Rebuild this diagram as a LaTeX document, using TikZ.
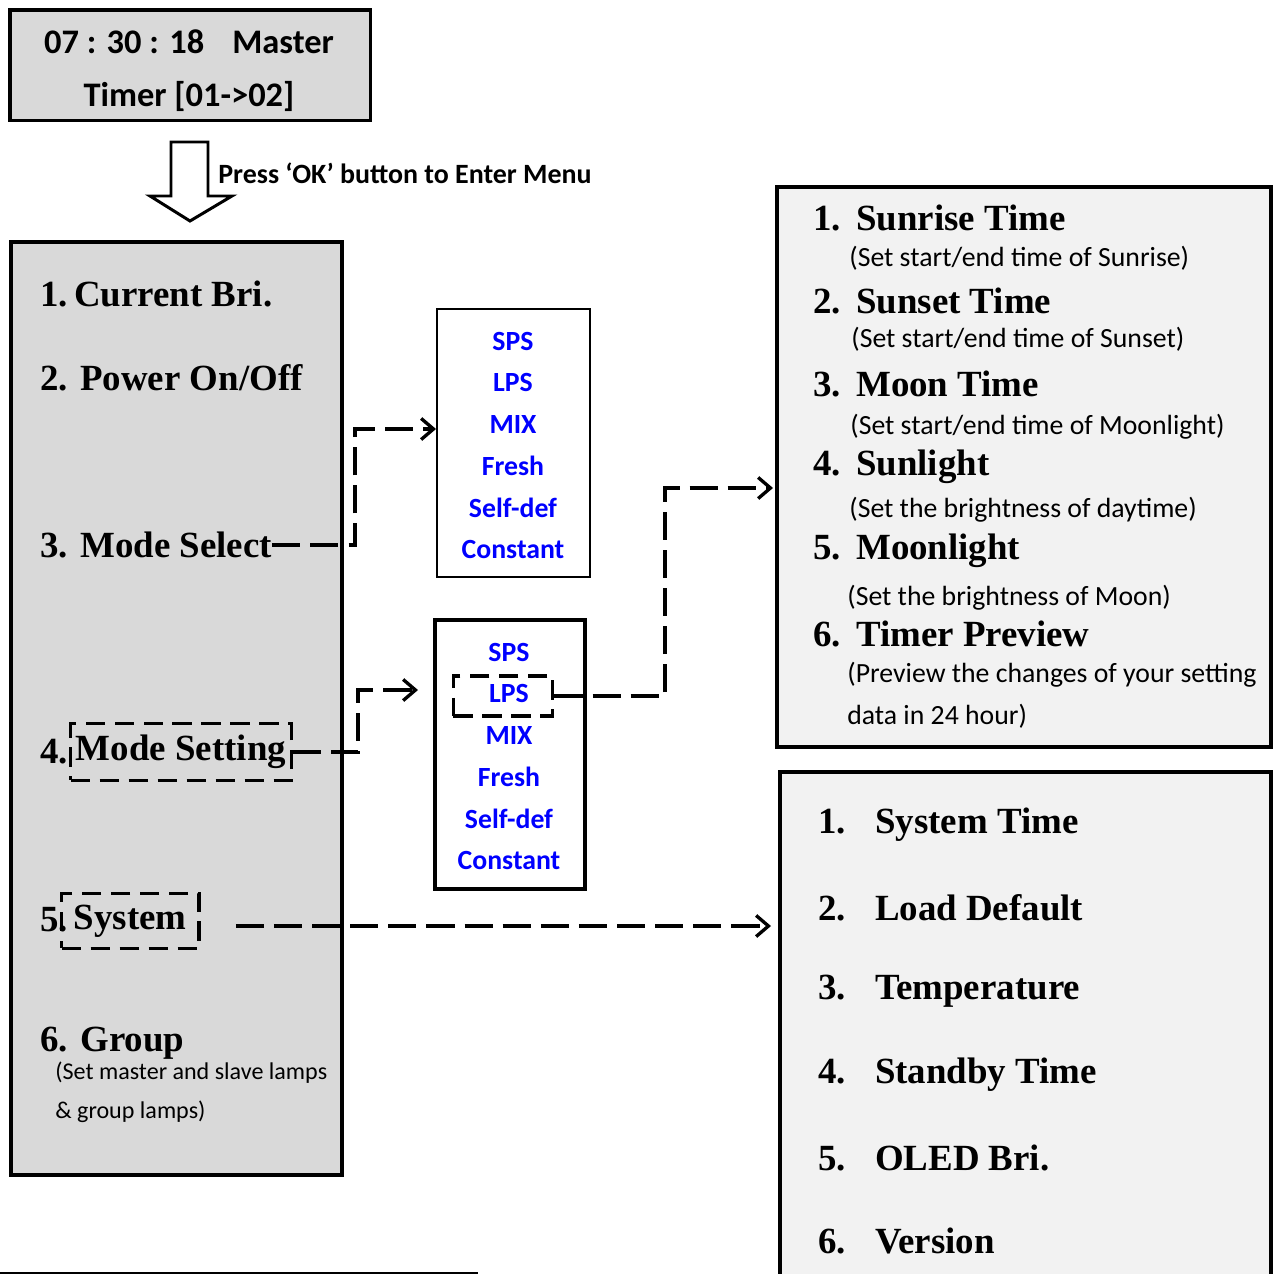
\documentclass[tikz,border=0pt]{standalone}
\usepackage{fontspec}
\setmainfont{Liberation Serif}
\newfontfamily\carlito{Carlito}
\usetikzlibrary{arrows.meta,positioning}

\definecolor{lcdgray}{HTML}{D9D9D9}
\definecolor{pagegray}{HTML}{F2F2F2}
\newcommand\px[1]{#1*0.5669pt}
\newcommand\fs[1]{\fontsize{#1}{#1}\selectfont}

\tikzset{
  panel/.style={draw, line width=2.2pt, anchor=north west, inner sep=0pt},
  lcdtxt/.style={inner sep=0pt, font=\carlito\bfseries\fs{19.6}},
  item/.style={anchor=west, inner sep=0pt, font=\bfseries\fs{21}},
  note/.style={anchor=west, inner sep=0pt, font=\carlito\fs{15.8}},
  mode/.style={inner sep=0pt, text=blue, font=\carlito\bfseries\fs{15.8}},
  dbox/.style={draw, line width=1.9pt, dash pattern=on 11pt off 5.5pt},
  link/.style={line width=1.9pt, dash pattern=on 16pt off 5.7pt},
  tip/.style={-{Straight Barb[length=7pt,width=12pt]}}
}

\begin{document}
\begin{tikzpicture}[x=0.02cm, y=-0.02cm, join=miter] % controller menu tree
  \useasboundingbox (0,0) rectangle (1273,1274);

  % home screen
  \node[panel, fill=lcdgray, minimum width=\px{362}, minimum height=\px{111}] (lcd) at (8,8) {};
  \node[lcdtxt] (clock) at (189,42) {07 : 30 : 18\hspace{16pt}Master};
  \node[lcdtxt] (tmr) at (189,96) {Timer [01->02]};
  \draw[line width=1.7pt] (171,142) -- (208,142) -- (208,196) -- (232,196) -- (190,221)
        -- (150,196) -- (171,196) -- cycle;
  \node[anchor=west, inner sep=0pt, font=\carlito\bfseries\fs{15.9}] (press) at (218,173)
        {Press ‘OK’ button to Enter Menu};

  % main menu
  \node[panel, fill=lcdgray, minimum width=\px{332}, minimum height=\px{937}] (menu) at (9,240) {};
  \node[item] (cur) at (40,294) {1.\,Current Bri.};
  \node[item] (pow) at (40,378) {2. Power On/Off};
  \node[item] (sel) at (40,545) {3. Mode Select};
  \node[item] (num4) at (40,752) {4.};
  \node[dbox, font=\bfseries\fs{21}, anchor=west, inner xsep=3pt, minimum height=\px{57}] (set) at (69,752) {Mode Setting};
  \node[item] (num5) at (40,920) {5.};
  \node[dbox, font=\bfseries\fs{21}, anchor=west, inner xsep=7pt, minimum height=\px{55}] (sys) at (60,921) {System};
  \node[item] (grp) at (40,1043) {6. Group};
  \node[note, font=\carlito\fs{13.7}] (grp1) at (55,1073) {(Set master and slave lamps};
  \node[note, font=\carlito\fs{13.7}] (grp2) at (55,1112) {\& group lamps)};

  % mode lists
  \node[panel, line width=1.1pt, minimum width=\px{154}, minimum height=\px{269}] (listA) at (436,308) {};
  \node[panel, minimum width=\px{151}, minimum height=\px{270}] (listB) at (433,618) {};
  \foreach \m [count=\i] in {SPS,LPS,MIX,Fresh,Self-def,Constant}{
    \node[mode] (a\i) at (513,{341+41.6*(\i-1)}) {\m};
    \node[mode] (b\i) at (509,{652+41.6*(\i-1)}) {\m};
  }
  \node[dbox, minimum width=\px{100}, minimum height=\px{40}] (lpsbox) at (503,696) {};

  % timer page
  \node[panel, fill=pagegray, minimum width=\px{496}, minimum height=\px{562}] (timer) at (775,185) {};
  \node[item] (t1) at (813,218) {\makebox[24.4pt][l]{1.}Sunrise Time};
  \node[note] (s1) at (849,258) {(Set start/end time of Sunrise)};
  \node[item] (t2) at (813,301) {\makebox[24.4pt][l]{2.}Sunset Time};
  \node[note] (s2) at (851,339) {(Set start/end time of Sunset)};
  \node[item] (t3) at (813,384) {\makebox[24.4pt][l]{3.}Moon Time};
  \node[note] (s3) at (850,427) {(Set start/end time of Moonlight)};
  \node[item] (t4) at (813,467) {\makebox[24.4pt][l]{4.}Sunlight};
  \node[note] (s4) at (849,510) {(Set the brightness of daytime)};
  \node[item] (t5) at (813,551) {\makebox[24.4pt][l]{5.}Moonlight};
  \node[note] (s5) at (847,598) {(Set the brightness of Moon)};
  \node[item] (t6) at (813,634) {\makebox[24.4pt][l]{6.}Timer Preview};
  \node[note] (s6) at (847,675) {(Preview the changes of your setting};
  \node[note] (s7) at (847,716) {data in 24 hour)};

  % system page
  \node[panel, fill=pagegray, minimum width=\px{493}, minimum height=\px{540}] (syspage) at (778,770) {};
  \foreach \s [count=\i] in {System Time,Load Default,Temperature,Standby Time,OLED Bri.,Version}
    \node[item] (y\i) at (818,{825+83.2*(\i-1)}) {\makebox[32.3pt][l]{\i.}\s};

  % connectors
  \coordinate (inA) at (436,429);
  \coordinate (inB) at (418,690);
  \coordinate (inT) at (773,488);
  \coordinate (inS) at (771,926);
  \draw[link, tip] (sel.east) -| (355,429) -- (inA);
  \draw[link, tip] (set.east) -| (358,690) -- (inB);
  \draw[link, tip] (lpsbox.east) -| (665,488) -- (inT);
  \draw[link, tip, shorten <=20pt] (sys.east |- inS) -- (inS);

  \draw[line width=1.1pt] (0,1273) -- (478,1273);
\end{tikzpicture}
\end{document}
